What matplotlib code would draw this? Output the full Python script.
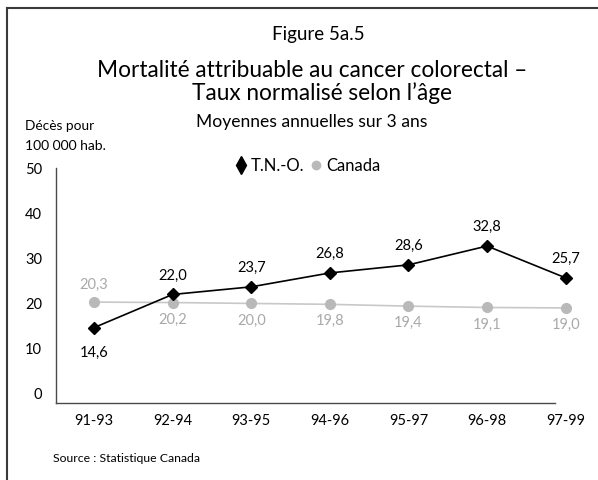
import matplotlib
matplotlib.use("Agg")
import matplotlib.pyplot as plt
from matplotlib.lines import Line2D

plt.rcParams["font.family"] = ["Lato", "DejaVu Sans"]

# data
periods = ["91-93", "92-94", "93-95", "94-96", "95-97", "96-98", "97-99"]
tno = [14.6, 22.0, 23.7, 26.8, 28.6, 32.8, 25.7]
canada = [20.3, 20.2, 20.0, 19.8, 19.4, 19.1, 19.0]
yticks = [0, 10, 20, 30, 40, 50]

W, H = 598, 480
BLACK = "#000000"
GREY_LINE = "#c8c8c8"
GREY_DOT = "#b9b9b9"
GREY_TEXT = "#a9a9a9"


def fx(px):
    return px / W


def fy(py):
    return 1 - py / H


fig = plt.figure(figsize=(W / 100, H / 100), dpi=100)

# axes box in pixels: left 56, right of data area 605, top 168, bottom 403
ax = fig.add_axes([fx(56), fy(403), fx(605 - 56), (403 - 168) / H])
ax.set_xlim(-0.483, 6.5)
ax.set_ylim(-2.2, 50.2)

x = list(range(len(periods)))
ax.plot(x, canada, color=GREY_LINE, lw=1.2, marker="o", ms=7,
        mfc=GREY_DOT, mec=GREY_DOT, clip_on=False, zorder=2)
ax.plot(x, tno, color=BLACK, lw=1.2, marker="D", ms=6,
        mfc=BLACK, mec=BLACK, clip_on=False, zorder=3)

for i, v in enumerate(tno):
    dy = -25 if i == 0 else 19
    ax.annotate(f"{v:.1f}".replace(".", ","), (i, v), xytext=(0, dy),
                textcoords="offset pixels", ha="center", va="center",
                fontsize=10.5, color=BLACK)
for i, v in enumerate(canada):
    dy = 17 if i == 0 else -17
    ax.annotate(f"{v:.1f}".replace(".", ","), (i, v), xytext=(0, dy),
                textcoords="offset pixels", ha="center", va="center",
                fontsize=10.5, color=GREY_TEXT)

for side in ("top", "right"):
    ax.spines[side].set_visible(False)
for side in ("left", "bottom"):
    ax.spines[side].set_color("#4a4a4a")
    ax.spines[side].set_linewidth(1.0)
ax.spines["bottom"].set_bounds(-0.483, 5.865)

ax.set_xticks(x)
ax.set_xticklabels(periods, fontsize=10.5)
ax.set_yticks(yticks)
ax.set_yticklabels([str(t) for t in yticks], fontsize=10.5)
ax.tick_params(axis="both", length=0)
ax.tick_params(axis="y", pad=10)
ax.tick_params(axis="x", pad=8)
ax.patch.set_alpha(0)

# titles
fig.text(fx(318), fy(40), "Figure 5a.5", ha="center", va="baseline",
         fontsize=13.5)
fig.text(fx(312), fy(77), "Mortalité attribuable au cancer colorectal –",
         ha="center", va="baseline", fontsize=16.3)
fig.text(fx(322), fy(100), "Taux normalisé selon l’âge",
         ha="center", va="baseline", fontsize=16.3)
fig.text(fx(312), fy(127), "Moyennes annuelles sur 3 ans",
         ha="center", va="baseline", fontsize=12.6)
fig.text(fx(25), fy(130), "Décès pour", ha="left", va="baseline",
         fontsize=9.8)
fig.text(fx(25), fy(150), "100 000 hab.", ha="left", va="baseline",
         fontsize=10)
fig.text(fx(53), fy(462), "Source : Statistique Canada", ha="left",
         va="baseline", fontsize=8.8)

# legend
handles = [
    Line2D([], [], ls="none", marker="d", ms=9, mfc=BLACK, mec=BLACK),
    Line2D([], [], ls="none", marker="o", ms=6, mfc=GREY_DOT, mec=GREY_DOT),
]
fig.legend(handles, ["T.N.-O.", "Canada"], loc="center",
           bbox_to_anchor=(fx(308), fy(166)), ncol=2, frameon=False,
           fontsize=12, handlelength=0.6, handletextpad=0.3,
           columnspacing=0.4, borderpad=0, borderaxespad=0)

# page frame: top and left edges only
fig.add_artist(Line2D([fx(7), 1], [fy(8), fy(8)], color="#3a3a3a", lw=1.5))
fig.add_artist(Line2D([fx(7), fx(7)], [fy(8), 0], color="#3a3a3a", lw=1.5))

fig.savefig("out.png", dpi=100)
